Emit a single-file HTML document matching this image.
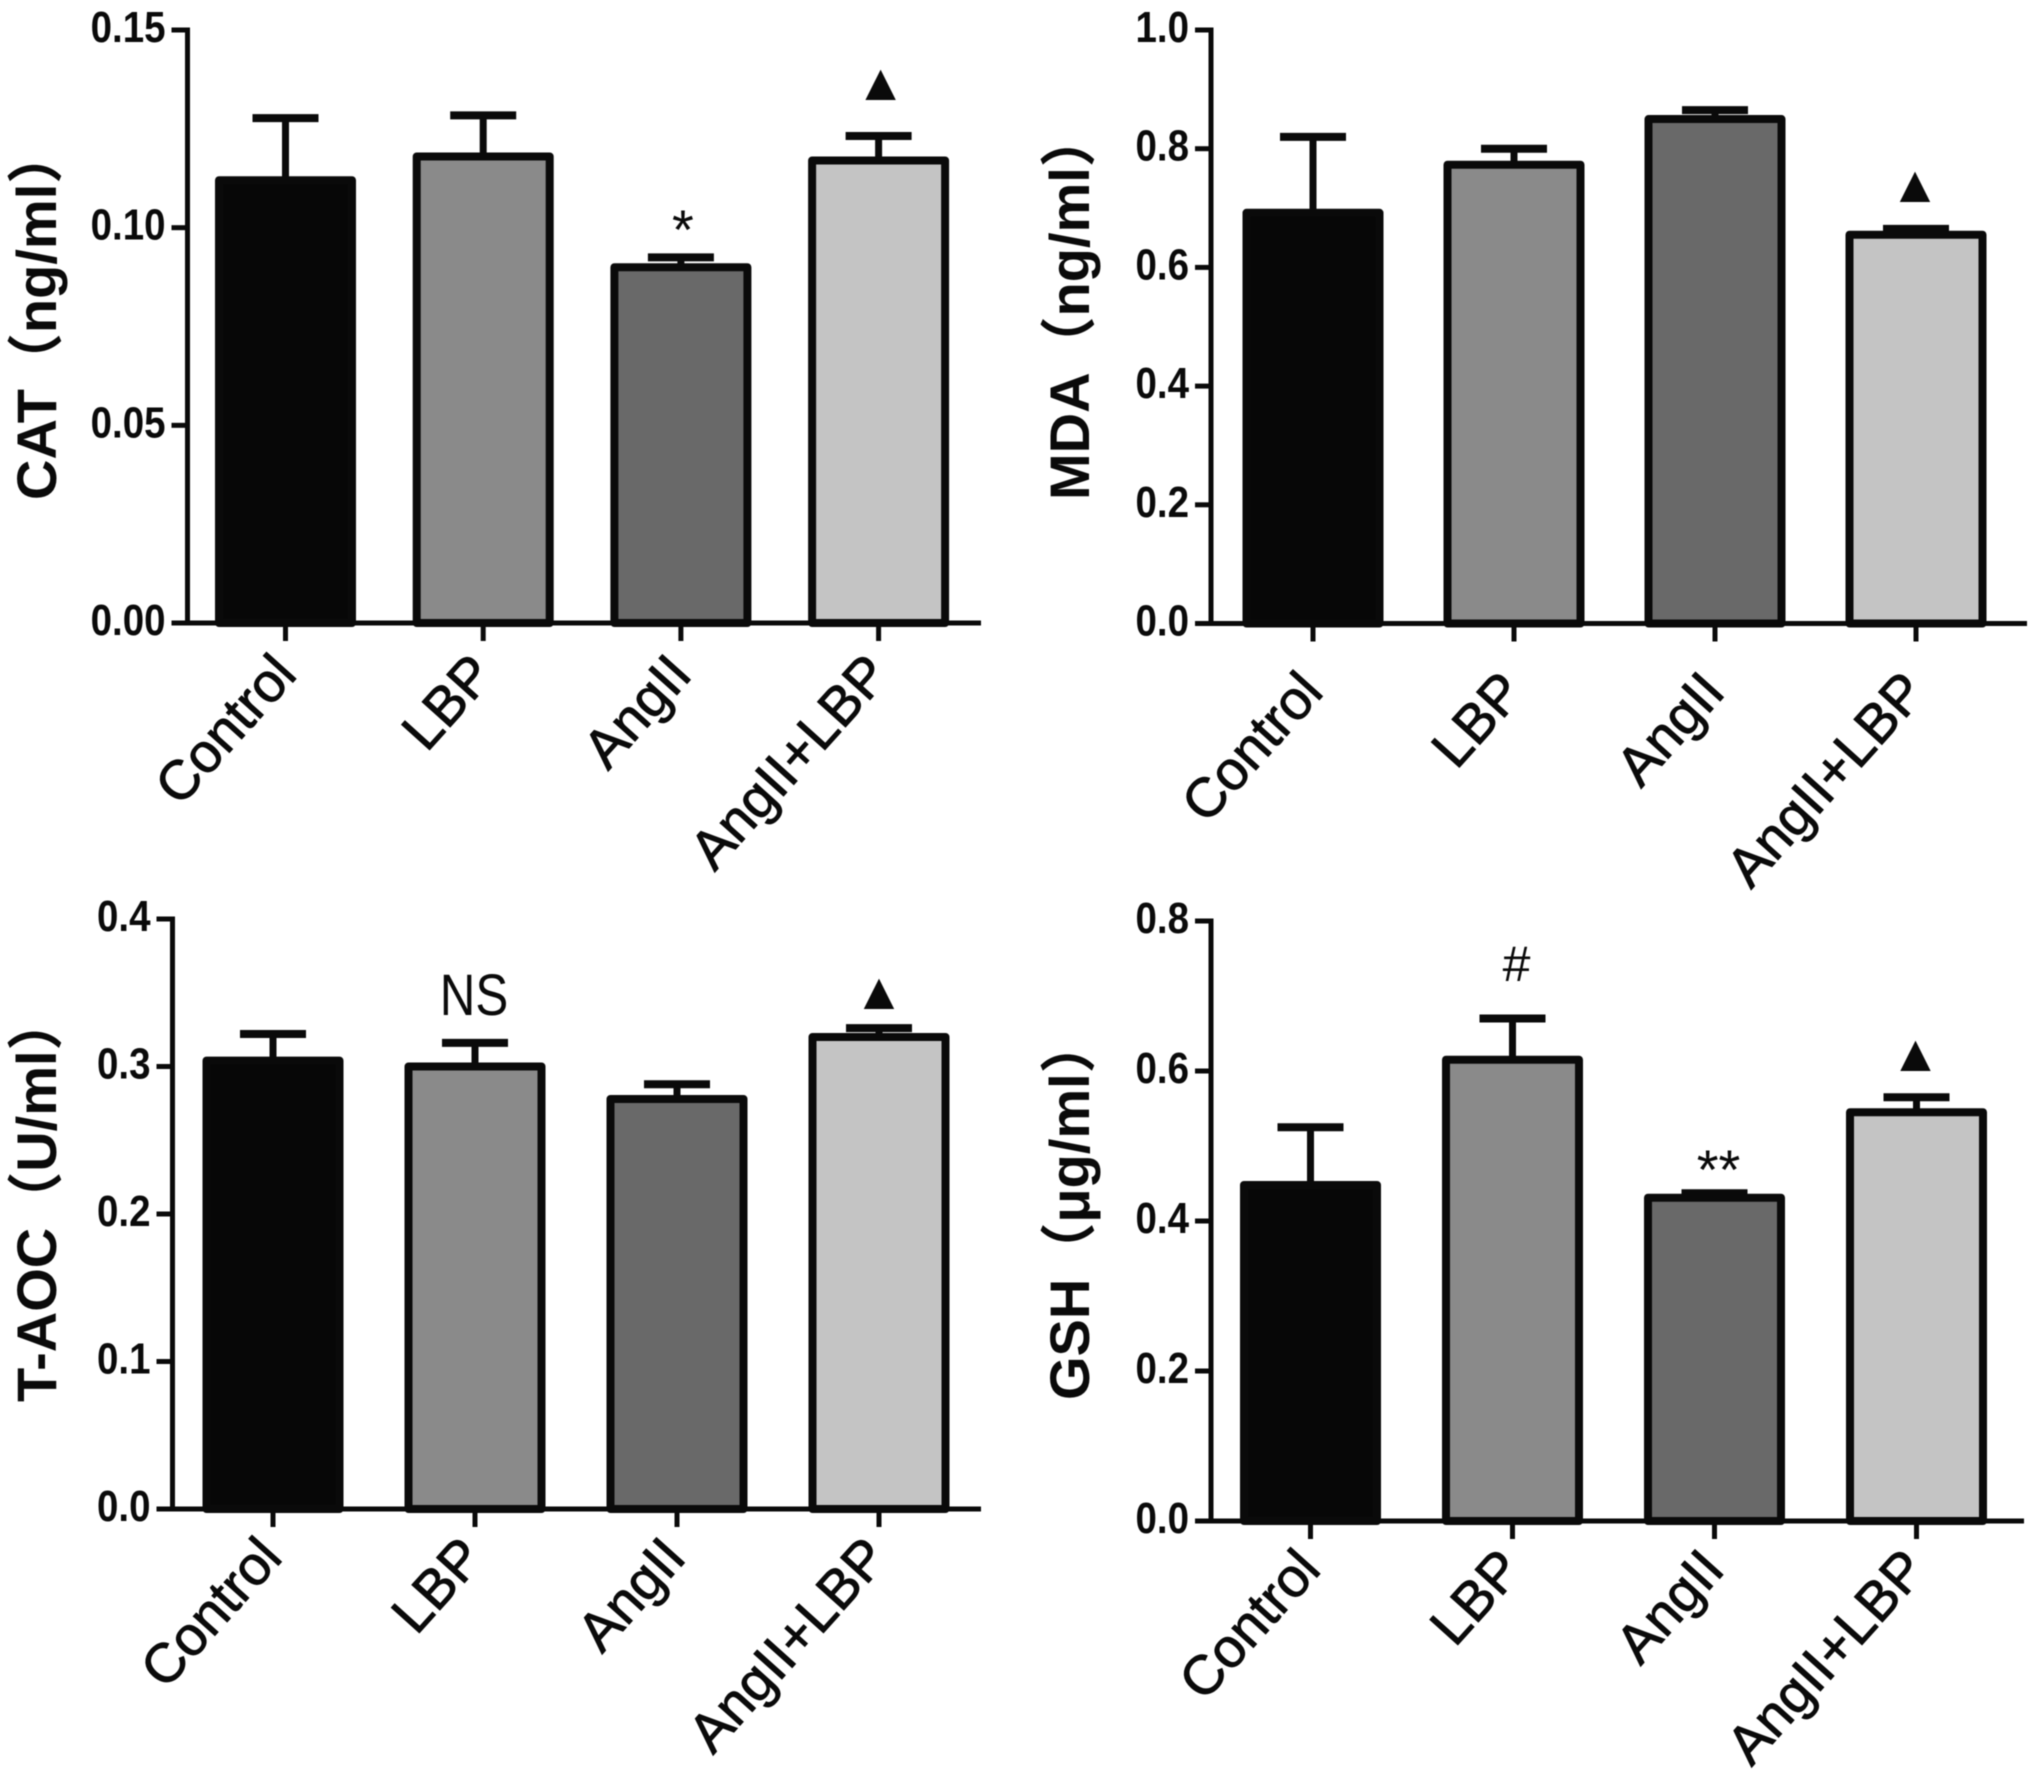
<!DOCTYPE html>
<html lang="en">
<head>
<meta charset="utf-8">
<title>Oxidative stress markers bar charts</title>
<style>
html,body{margin:0;padding:0;background:#fff;width:2031px;height:1788px;overflow:hidden}
svg{display:block;filter:blur(0.5px)}
text{font-family:"Liberation Sans","Noto Sans CJK SC",sans-serif;fill:#0a0a0a}
</style>
</head>
<body>
<svg id="figure" xmlns="http://www.w3.org/2000/svg" width="2031" height="1788" viewBox="0 0 2031 1788"></svg>
<script>
var categories = ["Control", "LBP", "AngII", "AngII+LBP"];

var catValues = [0.112, 0.118, 0.090, 0.117];
var catErrorTops = [0.1277, 0.1284, 0.0925, 0.1232];
var catTicks = ["0.00", "0.05", "0.10", "0.15"];
var catTickValues = [0, 0.05, 0.10, 0.15];
var catMarks = ["", "", "*", "▲"];
var catMarkValues = [0, 0, 0.0946, 0.1323];

var mdaValues = [0.692, 0.773, 0.85, 0.655];
var mdaErrorTops = [0.82, 0.80, 0.865, 0.665];
var mdaTicks = ["0.0", "0.2", "0.4", "0.6", "0.8", "1.0"];
var mdaTickValues = [0, 0.2, 0.4, 0.6, 0.8, 1.0];
var mdaMarks = ["", "", "", "▲"];
var mdaMarkValues = [0, 0, 0, 0.71];

var taocValues = [0.304, 0.30, 0.278, 0.32];
var taocErrorTops = [0.322, 0.316, 0.288, 0.326];
var taocTicks = ["0.0", "0.1", "0.2", "0.3", "0.4"];
var taocTickValues = [0, 0.1, 0.2, 0.3, 0.4];
var taocMarks = ["", "NS", "", "▲"];
var taocMarkValues = [0, 0.335, 0, 0.339];

var gshValues = [0.448, 0.615, 0.431, 0.545];
var gshErrorTops = [0.525, 0.67, 0.437, 0.565];
var gshTicks = ["0.0", "0.2", "0.4", "0.6", "0.8"];
var gshTickValues = [0, 0.2, 0.4, 0.6, 0.8];
var gshMarks = ["", "#", "**", "▲"];
var gshMarkValues = [0, 0.72, 0.443, 0.6];

var fills = ["#070707", "#8a8a8a", "#696969", "#c4c4c4"];
var NS = "http://www.w3.org/2000/svg";
var svg = document.getElementById("figure");

function make(tag, attrs, parent) {
  var e = document.createElementNS(NS, tag);
  for (var k in attrs) e.setAttribute(k, attrs[k]);
  parent.appendChild(e);
  return e;
}

function drawPanel(p) {
  var g = make("g", {}, svg);
  
  

  var maxV = p.tickValues[p.tickValues.length - 1];
  function yScale(v) { return p.base - (v / maxV) * (p.base - p.top); }
  function xScale(i) { return p.x0 + p.step * i; }

  p.values.forEach(function (v, i) {
    var cx = xScale(i);
    var y = yScale(v);

    var stem = make("line", {x1: cx, x2: cx, y1: y, y2: yScale(p.errs[i]), stroke: "#0a0a0a", "stroke-width": 7}, g);
    
    

    var cap = make("line", {x1: cx - 33, x2: cx + 33, y1: yScale(p.errs[i]), y2: yScale(p.errs[i]), stroke: "#0a0a0a", "stroke-width": 8}, g);
    
    

    var bar = make("rect", {x: cx - 66.5, y: y, width: 133, height: p.base - y, fill: fills[i], stroke: "#0a0a0a", "stroke-width": 8, "stroke-linejoin": "round"}, g);
    
    

    var tick = make("line", {x1: cx, x2: cx, y1: p.base, y2: p.base + 18, stroke: "#0a0a0a", "stroke-width": 5}, g);
    
    

    var lx = cx + p.labelShift, ly = p.base + p.labelGap;
    var lab = make("text", {x: 0, y: 0, "text-anchor": "end", "font-size": 55, stroke: "#0a0a0a", "stroke-width": 0.9, transform: "translate(" + lx + "," + ly + ") rotate(-48)"}, g);
    lab.textContent = categories[i];
    
    

    if (p.marks[i]) {
      var my = yScale(p.markValues[i]);
      var mark = p.marks[i];
      var isTri = mark === "▲";
      var size = isTri ? 52 : (mark === "NS" ? 58 : (mark === "#" ? 50 : 56));
      var shift = isTri ? p.triShift : p.textShift;
      var m = make("text", {x: 0, y: 0, "text-anchor": "middle", "font-size": size,
        "font-family": isTri ? "DejaVu Sans" : "Liberation Sans",
        transform: "translate(" + (cx + shift) + "," + my + ")" + (mark === "NS" ? " scale(0.85,1)" : "")}, g);
      m.textContent = mark;
      
      
    }
  });

  var yAxis = make("line", {x1: p.axisX, x2: p.axisX, y1: p.top - 2.5, y2: p.base + 2.5, stroke: "#0a0a0a", "stroke-width": 5}, g);
  
  

  var xAxis = make("line", {x1: p.axisX - 16, x2: p.xEnd, y1: p.base, y2: p.base, stroke: "#0a0a0a", "stroke-width": 5}, g);
  
  

  p.tickValues.forEach(function (v, i) {
    var ty = yScale(v);
    var t = make("line", {x1: p.axisX - 16, x2: p.axisX, y1: ty, y2: ty, stroke: "#0a0a0a", "stroke-width": 5}, g);
    
    

    var tl = make("text", {x: 0, y: 0, "text-anchor": "end", "font-size": 44, "font-weight": "bold",
      transform: "translate(" + (p.axisX - 22) + "," + (ty + 12) + ") scale(0.875,1)"}, g);
    tl.textContent = p.ticks[i];
    
    
  });

  var title = make("text", {x: 0, y: 0, "font-size": 56, "font-weight": "bold",
    transform: "translate(" + p.titleX + "," + p.titleY + ") rotate(-90)"}, g);
  title.textContent = p.title;
  
  
}

drawPanel({id: "cat", title: "CAT（ng/ml）", titleX: 56, titleY: 500, axisX: 187.5, top: 30, base: 623, xEnd: 981, x0: 285.5, step: 197.7,
  values: catValues, errs: catErrorTops, ticks: catTicks, tickValues: catTickValues, marks: catMarks, markValues: catMarkValues, labelGap: 53, labelShift: 13, triShift: 2, textShift: 2});
drawPanel({id: "mda", title: "MDA（ng/ml）", titleX: 1089, titleY: 500, axisX: 1211, top: 30, base: 623.5, xEnd: 2027, x0: 1313, step: 201,
  values: mdaValues, errs: mdaErrorTops, ticks: mdaTicks, tickValues: mdaTickValues, marks: mdaMarks, markValues: mdaMarkValues, labelGap: 70, labelShift: 12, triShift: -1, textShift: 0});
drawPanel({id: "t-aoc", title: "T-AOC（U/ml）", titleX: 56, titleY: 1402, axisX: 172.5, top: 919, base: 1509, xEnd: 981, x0: 273, step: 202,
  values: taocValues, errs: taocErrorTops, ticks: taocTicks, tickValues: taocTickValues, marks: taocMarks, markValues: taocMarkValues, labelGap: 50, labelShift: 11, triShift: 0, textShift: -1});
drawPanel({id: "gsh", title: "GSH（μg/ml）", titleX: 1089, titleY: 1400, axisX: 1211, top: 921, base: 1521, xEnd: 2024, x0: 1310.5, step: 202,
  values: gshValues, errs: gshErrorTops, ticks: gshTicks, tickValues: gshTickValues, marks: gshMarks, markValues: gshMarkValues, labelGap: 50, labelShift: 12, triShift: -1, textShift: 4});
</script>
</body>
</html>
